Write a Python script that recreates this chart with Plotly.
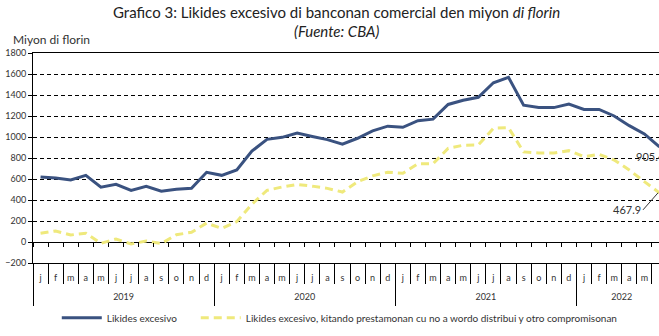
import plotly.graph_objects as go

years = ["2019"] * 12 + ["2020"] * 12 + ["2021"] * 12 + ["2022"] * 6
months = ["j", "f", "m", "a", "m", "j", "j", "a", "s", "o", "n", "d"] * 3 + ["j", "f", "m", "a", "m", "j"]

likides = [620, 610, 590, 635, 522, 549, 492, 530, 484, 502, 511, 664,
           635, 686, 865, 978, 997, 1038, 1005, 975, 932, 988, 1058, 1103,
           1092, 1155, 1170, 1310, 1350, 1378, 1517, 1568, 1303, 1282, 1280, 1313,
           1263, 1263, 1200, 1108, 1029, 905.4]
likides_kitando = [83, 105, 67, 83, -13, 29, -19, 10, -15, 70, 92, 180,
                   130, 194, 360, 492, 524, 548, 532, 511, 476, 574, 630, 665,
                   654, 745, 745, 892, 922, 924, 1083, 1089, 858, 848, 848, 870,
                   813, 835, 781, 686, 575, 467.9]

name1 = "Likides excesivo"
name2 = "Likides excesivo, kitando prestamonan cu no a wordo distribui y otro compromisonan"
FONT = "Lato"
BLUE = "#3A5280"
YELLOW = "#EFE97C"

n = len(months)
idx = list(range(n))                              # month position on the axis
bounds = [i - 0.5 for i in range(n + 1)]          # month boundaries
year_names = sorted(set(years))
year_first = [years.index(y) for y in year_names]
year_last = [n - 1 - years[::-1].index(y) for y in year_names]
year_centers = [(a + b) / 2 for a, b in zip(year_first, year_last)]
year_bounds = [a - 0.5 for a in year_first]

fig = go.Figure()
fig.add_trace(go.Scatter(x=idx, y=likides, mode="lines", name=name1, legend="legend",
                         line=dict(color=BLUE, width=3)))
fig.add_trace(go.Scatter(x=idx, y=likides_kitando, mode="lines", name=name2, legend="legend2",
                         line=dict(color=YELLOW, width=3, dash="8px,5px")))
for ax in ("x2", "x3"):
    fig.add_trace(go.Scatter(x=[0], y=[None], xaxis=ax, showlegend=False, hoverinfo="skip"))

leg_common = dict(orientation="h", xanchor="left", yref="container", y=0.054,
                  yanchor="middle", font=dict(size=10, color="#333333"), itemwidth=40,
                  bgcolor="rgba(0,0,0,0)")
xr = [-0.5, n - 1.03]
fig.update_layout(
    width=659, height=336,
    margin=dict(l=33, r=0, t=53, b=73),
    paper_bgcolor="white", plot_bgcolor="white",
    font=dict(family=FONT, color="#333333", size=9),
    showlegend=True,
    legend=dict(x=0.038, **leg_common),
    legend2=dict(x=0.26, **leg_common),
    # month letters + month separators below the plot
    xaxis=dict(range=xr, automargin=False, showline=True, linecolor="black", linewidth=1,
               mirror=True, tickmode="array", tickvals=idx, ticktext=months, ticks="",
               ticklabelstandoff=6, tickangle=0, showgrid=False, zeroline=False,
               tickfont=dict(size=9, color="#333333"),
               minor=dict(tickmode="array", tickvals=bounds, ticks="outside", ticklen=20,
                          tickcolor="black", tickwidth=1, showgrid=False)),
    # small ticks along the zero line
    xaxis2=dict(overlaying="x", anchor="free", position=0.1, range=xr, automargin=False,
                showline=False, ticks="outside", ticklen=4, tickcolor="black",
                tickmode="array", tickvals=bounds, showticklabels=False, showgrid=False,
                zeroline=False),
    # year labels + year dividers
    xaxis3=dict(overlaying="x", anchor="y", side="bottom", range=xr, automargin=False,
                showline=False, tickmode="array", tickvals=year_centers, ticktext=year_names,
                ticks="", ticklabelstandoff=27, showgrid=False, zeroline=False,
                tickfont=dict(size=9, color="#333333"),
                minor=dict(tickmode="array", tickvals=year_bounds, ticks="outside", ticklen=42,
                           tickcolor="black", tickwidth=1, showgrid=False)),
    yaxis=dict(range=[-200, 1800], dtick=200, tick0=0, automargin=False, showline=True,
               linecolor="black", linewidth=1, ticks="outside", ticklen=4, tickcolor="black",
               showgrid=True, gridcolor="black", gridwidth=1, griddash="4px,3px",
               zeroline=True, zerolinecolor="black", zerolinewidth=1,
               tickfont=dict(size=9, color="#333333")),
)

fig.add_annotation(xref="paper", yref="paper", x=0.485, y=1, yshift=52, xanchor="center",
                   yanchor="top", showarrow=False,
                   text="Grafico 3: Likides excesivo di banconan comercial den miyon <i>di florin</i>",
                   font=dict(size=15, color="#222222", family=FONT))
fig.add_annotation(xref="paper", yref="paper", x=0.485, y=1, yshift=33, xanchor="center",
                   yanchor="top", showarrow=False, text="<i>(Fuente: CBA)</i>",
                   font=dict(size=15, color="#222222", family=FONT))
fig.add_annotation(xref="paper", yref="paper", x=0, xshift=-22, y=1, yshift=14,
                   xanchor="left", yanchor="middle", showarrow=False, text="Miyon di florin",
                   font=dict(size=12, color="#333333", family=FONT))
fig.add_annotation(xref="paper", yref="y", x=1, y=likides[-1], xanchor="left", yanchor="middle",
                   xshift=-25, yshift=-10, showarrow=False, text=f"{likides[-1]}",
                   font=dict(size=11, color="#333333", family=FONT))
fig.add_annotation(xref="paper", yref="y", x=1, y=likides_kitando[-1], showarrow=True,
                   arrowhead=0, arrowwidth=1, arrowcolor="#333333", ax=-16, ay=17,
                   text=f"{likides_kitando[-1]}", xanchor="right", yanchor="middle",
                   font=dict(size=11, color="#333333", family=FONT))

fig.write_html("out.html")
